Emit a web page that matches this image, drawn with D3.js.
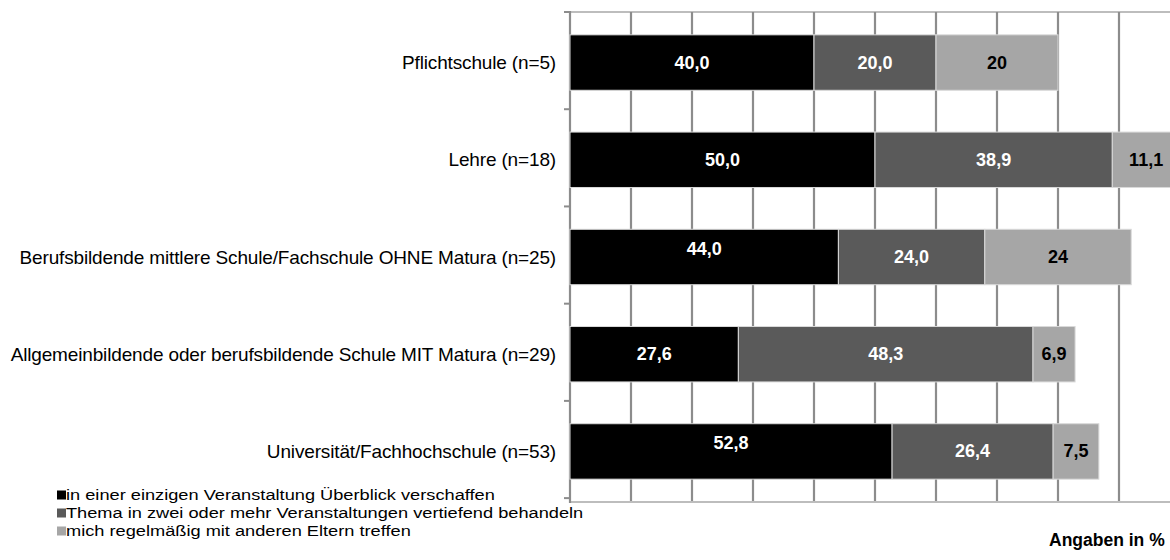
<!DOCTYPE html>
<html><head><meta charset="utf-8">
<script src="https://cdn.jsdelivr.net/npm/d3@7/dist/d3.min.js"></script>
<style>
html,body{margin:0;padding:0;background:#fff;}
svg{display:block;font-family:"Liberation Sans",Arial,sans-serif;}
</style></head>
<body><svg id="c" width="1170" height="560"></svg>
<script>
const categories = [
  "Pflichtschule (n=5)",
  "Lehre (n=18)",
  "Berufsbildende mittlere Schule/Fachschule OHNE Matura (n=25)",
  "Allgemeinbildende oder berufsbildende Schule MIT Matura (n=29)",
  "Universität/Fachhochschule (n=53)"
];
const seriesNames = [
  "in einer einzigen Veranstaltung Überblick verschaffen",
  "Thema in zwei oder mehr Veranstaltungen vertiefend behandeln",
  "mich regelmäßig mit anderen Eltern treffen"
];
const overview = [40.0, 50.0, 44.0, 27.6, 52.8];
const deepen   = [20.0, 38.9, 24.0, 48.3, 26.4];
const regular  = [20.0, 11.1, 24.0, 6.9, 7.5];
const overviewLabels = ["40,0", "50,0", "44,0", "27,6", "52,8"];
const deepenLabels   = ["20,0", "38,9", "24,0", "48,3", "26,4"];
const regularLabels  = ["20", "11,1", "24", "6,9", "7,5"];
const xTicks = [0, 10, 20, 30, 40, 50, 60, 70, 80, 90, 100];
const unitLabel = "Angaben in %";

const colors = ["#000000", "#5a5a5a", "#a6a6a6"];
const labelColors = ["#ffffff", "#ffffff", "#000000"];

const svg = d3.select("#c");
const x = d3.scaleLinear().domain([0, 100]).range([570, 1180]);
const y = d3.scaleBand().domain(categories).range([12, 502]).paddingInner(0.43).paddingOuter(0.235);
const step = y.step();

// top border
svg.append("line").attr("x1", 570).attr("x2", 1170).attr("y1", 12).attr("y2", 12)
  .attr("stroke", "#bdbdbd").attr("stroke-width", 2);

// gridlines
svg.append("g").selectAll("line").data(xTicks.slice(1)).join("line")
  .attr("x1", d => x(d)).attr("x2", d => x(d))
  .attr("y1", 12).attr("y2", 502)
  .attr("stroke", "#8c8c8c").attr("stroke-width", 2.2);

// bottom axis
svg.append("line").attr("x1", 570).attr("x2", 1170).attr("y1", 502).attr("y2", 502)
  .attr("stroke", "#bdbdbd").attr("stroke-width", 2);

// left axis with category boundary ticks
svg.append("line").attr("x1", 570).attr("x2", 570).attr("y1", 11).attr("y2", 503)
  .attr("stroke", "#8c8c8c").attr("stroke-width", 2.2);
const bounds = d3.range(categories.length + 1).map(i => 12 + i * step);
svg.append("g").selectAll("line").data(bounds).join("line")
  .attr("x1", 564).attr("x2", 570).attr("y1", d => d).attr("y2", d => d)
  .attr("stroke", "#8c8c8c").attr("stroke-width", 2);

// stacked bars
const series = [overview, deepen, regular];
const labels = [overviewLabels, deepenLabels, regularLabels];
const raised = new Set([2, 4]); // first-series labels drawn a little higher in the original
categories.forEach((cat, i) => {
  let acc = 0;
  series.forEach((s, k) => {
    const v = s[i];
    const x0 = x(acc), x1 = x(acc + v);
    svg.append("rect")
      .attr("x", x0).attr("y", y(cat))
      .attr("width", x1 - x0).attr("height", y.bandwidth())
      .attr("fill", colors[k]).attr("stroke", "#d9d9d9").attr("stroke-width", 1);
    const dy = (k === 0 && raised.has(i)) ? -8 : 0;
    svg.append("text")
      .attr("x", (x0 + x1) / 2).attr("y", y(cat) + y.bandwidth() / 2 + dy)
      .attr("text-anchor", "middle").attr("dominant-baseline", "central")
      .attr("font-size", 18).attr("font-weight", "bold")
      .attr("fill", labelColors[k]).text(labels[k][i]);
    acc += v;
  });
});

// category labels
svg.append("g").selectAll("text").data(categories).join("text")
  .attr("x", 556).attr("y", d => y(d) + y.bandwidth() / 2)
  .attr("text-anchor", "end").attr("dominant-baseline", "central")
  .attr("font-size", 19).attr("letter-spacing", -0.15).attr("fill", "#000").text(d => d);

// legend
const lg = svg.append("g");
seriesNames.forEach((n, k) => {
  const yy = 495 + k * 18;
  lg.append("rect").attr("x", 57).attr("y", yy - 4.5).attr("width", 9).attr("height", 9).attr("fill", colors[k]);
  lg.append("text").attr("transform", `translate(66,${yy}) scale(1.175,1)`)
    .attr("dominant-baseline", "central")
    .attr("font-size", 15.5).attr("fill", "#000").text(n);
});

svg.append("text").attr("x", 1049).attr("y", 540).attr("dominant-baseline", "central")
  .attr("font-size", 17.5).attr("font-weight", "bold").attr("fill", "#000").text(unitLabel);
</script></body></html>
